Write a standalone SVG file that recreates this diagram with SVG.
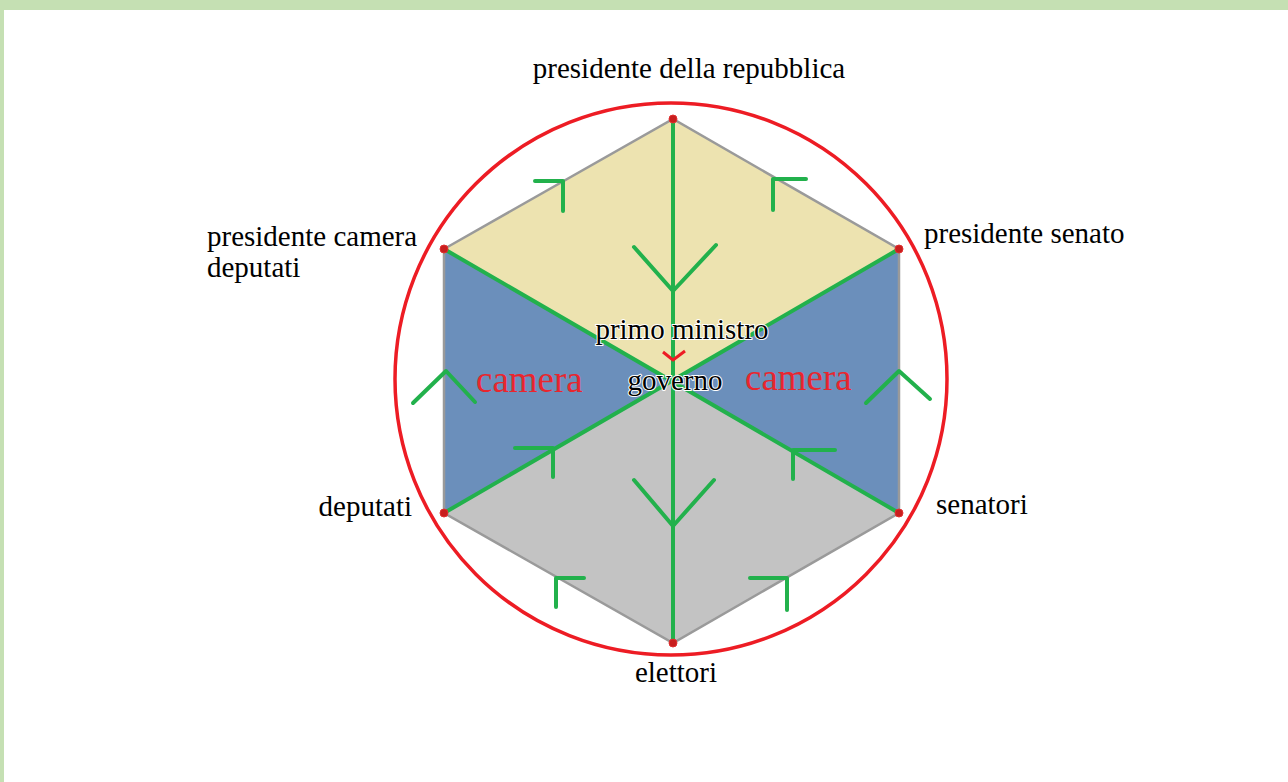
<svg xmlns="http://www.w3.org/2000/svg" width="1288" height="782" viewBox="0 0 1288 782">
<style>
.lbl{font-family:"Liberation Serif","Times New Roman",serif;font-size:29px;fill:#000}
.cam{font-family:"Liberation Serif","Times New Roman",serif;font-size:37px;fill:#e8262e}
.halo{paint-order:stroke;stroke:#fff;stroke-width:2px}
.g{stroke:#22b14c;stroke-width:4;fill:none;stroke-linecap:round;stroke-linejoin:round}
.v{fill:#c81e1e;stroke:#e03030;stroke-width:1}
</style>
<rect x="0" y="0" width="1288" height="782" fill="#fff"/>
<rect x="0" y="0" width="1288" height="10" fill="#c5e0b3"/>
<rect x="0" y="0" width="4" height="782" fill="#c5e0b3"/>
<g id="regions">
<polygon points="444,249 673,119 899,249 672,381" fill="#ede3b0"/>
<polygon points="444,249 672,381 444,513" fill="#6b8fbb"/>
<polygon points="899,249 899,513 672,381" fill="#6b8fbb"/>
<polygon points="444,513 672,381 899,513 673,643" fill="#c3c3c3"/>
<polygon points="444,249 673,119 899,249 899,513 673,643 444,513" fill="none" stroke="#9a9a9a" stroke-width="2.5"/>
</g>
<g id="circle"><circle cx="671" cy="379" r="276" fill="none" stroke="#ed1c24" stroke-width="3.5"/></g>
<g id="connectors">
<line class="g" x1="673" y1="119" x2="673" y2="643"/>
<line class="g" x1="444" y1="249" x2="899" y2="513"/>
<line class="g" x1="899" y1="249" x2="444" y2="513"/>
<polyline class="g" points="535,181 563,181 563,211"/>
<polyline class="g" points="806,179 773,179 773,210"/>
<polyline class="g" points="634,247 673,291 716,245"/>
<polyline class="g" points="634,480 673,526 714,480"/>
<polyline class="g" points="413,403 446,371 475,402"/>
<polyline class="g" points="866,403 899,371 930,399"/>
<polyline class="g" points="515,448 553,448 553,477"/>
<polyline class="g" points="835,450 793,450 793,479"/>
<polyline class="g" points="584,578 556,578 556,607"/>
<polyline class="g" points="750,578 787,578 787,610"/>
<polyline points="663,352 673,360 685,351" fill="none" stroke="#ed1c24" stroke-width="3" stroke-linejoin="round"/>
</g>
<g id="vertices">
<circle class="v" cx="673" cy="119" r="4"/>
<circle class="v" cx="444" cy="249" r="4"/>
<circle class="v" cx="899" cy="249" r="4"/>
<circle class="v" cx="899" cy="513" r="4"/>
<circle class="v" cx="673" cy="643" r="4"/>
<circle class="v" cx="444" cy="513" r="4"/>
</g>
<g id="node-presidente-repubblica"><text class="lbl" x="689" y="78" text-anchor="middle">presidente della repubblica</text></g>
<g id="node-presidente-camera"><text class="lbl" x="207" y="246">presidente camera</text><text class="lbl" x="207" y="277">deputati</text></g>
<g id="node-presidente-senato"><text class="lbl" x="924" y="243">presidente senato</text></g>
<g id="node-primo-ministro"><text class="lbl halo" x="682" y="339" text-anchor="middle">primo ministro</text></g>
<g id="node-governo"><text class="lbl halo" x="675" y="390" text-anchor="middle">governo</text></g>
<g id="node-camera-left"><text class="cam" x="476" y="392">camera</text></g>
<g id="node-camera-right"><text class="cam" x="745" y="390">camera</text></g>
<g id="node-deputati"><text class="lbl" x="412" y="516" text-anchor="end">deputati</text></g>
<g id="node-senatori"><text class="lbl" x="936" y="514">senatori</text></g>
<g id="node-elettori"><text class="lbl" x="676" y="682" text-anchor="middle">elettori</text></g>
</svg>
